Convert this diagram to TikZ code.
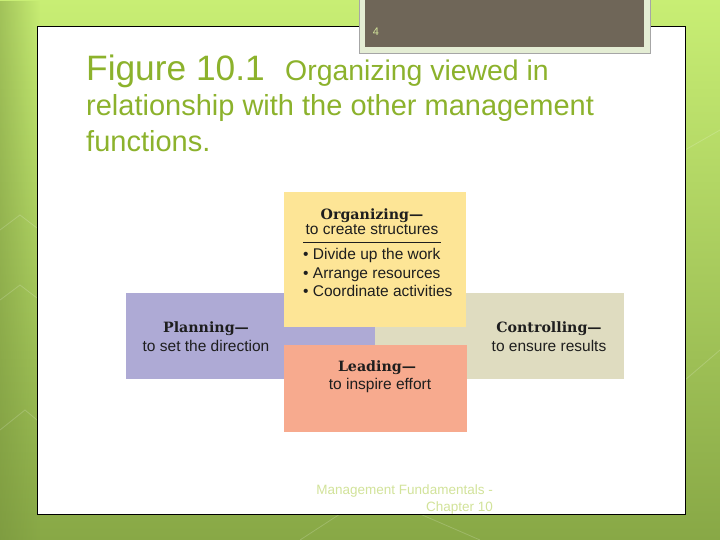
\documentclass[tikz,border=0pt]{standalone}
\usepackage{fontspec}
\usetikzlibrary{fadings}
\setmainfont{Liberation Sans}
\newfontfamily\headserif{DejaVu Serif}
\definecolor{bgtop}{HTML}{C8EE74}
\definecolor{bgbot}{HTML}{88A846}
\definecolor{tabfill}{HTML}{6F6658}
\definecolor{tabedge}{HTML}{E4EDD4}
\definecolor{titlegreen}{HTML}{8CB22C}
\definecolor{footgreen}{HTML}{D2E39A}
\definecolor{orgyellow}{HTML}{FDE596}
\definecolor{planpurple}{HTML}{AEAAD5}
\definecolor{ctrltan}{HTML}{DFDCC0}
\definecolor{leadsalmon}{HTML}{F7AA8E}
\definecolor{ink}{HTML}{1E1E1E}
\begin{document}
\begin{tikzpicture}[x=1pt,y=-1pt,
  box/.style={draw=none,inner sep=0pt,outer sep=0pt},
  head/.style={font=\headserif\bfseries\fontsize{14.2}{17}\selectfont,text=ink,inner sep=0pt,anchor=base},
  sub/.style={font=\fontsize{15.5}{18}\selectfont,text=ink,inner sep=0pt,anchor=base},
  title/.style={text=titlegreen,inner sep=0pt,anchor=base west},
  foot/.style={font=\fontsize{13.5}{16}\selectfont,text=footgreen,inner sep=0pt}]
\useasboundingbox (0,0) rectangle (720,540);
% background
\shade[top color=bgtop,bottom color=bgbot] (0,0) rectangle (720,540);
\fill[bgbot!85!black,opacity=0.45,path fading=east] (0,0) rectangle (40,540);
\begin{scope}[draw=white,opacity=0.18,line width=0.8pt]
  \draw (0,230) -- (20,215) -- (37,228);
  \draw (0,300) -- (20,285) -- (37,298);
  \draw (0,430) -- (25,410) -- (37,420);
  \draw (300,540) -- (340,514);
  \draw (420,514) -- (480,540);
  \draw (685,380) -- (720,350);
  \draw (685,150) -- (720,130);
\end{scope}
% white panel
\draw[fill=white,draw=black,line width=0.8pt] (37,26) rectangle (685,514);
% tab
\draw[fill=tabedge,draw=gray!70,line width=0.6pt] (359,-5) rectangle (650,53);
\fill[tabfill] (365,-5) rectangle (644,47);
\node[font=\fontsize{11}{13}\selectfont,text=footgreen,anchor=base,inner sep=0pt] (pagenum) at (376,36) {4};
% title
\node[title,font=\fontsize{35.3}{40}\selectfont] (fig) at (86,81) {Figure 10.1};
\node[title,font=\fontsize{28.4}{34}\selectfont] (t1) at (285,81) {Organizing viewed in};
\node[title,font=\fontsize{29}{34}\selectfont] (t2) at (86,116) {relationship with the other management};
\node[title,font=\fontsize{29}{34}\selectfont] (t3) at (86,152) {functions.};
% diagram boxes
\fill[planpurple] (126,293) rectangle (375,379);
\fill[ctrltan] (375,293) rectangle (624,379);
\node[box,fill=orgyellow,minimum width=182pt,minimum height=135pt] (org) at (375,259.5) {};
\node[box,fill=leadsalmon,minimum width=183pt,minimum height=87pt] (lead) at (375.5,388.5) {};
% texts
\node[head] (orgh) at (372,219) {Organizing—};
\node[sub] (orgs) at (372,235) {to create structures};
\draw[ink,line width=0.9pt] (303,242) -- (441,242);
\node[sub,anchor=base west] (b1) at (303,259) {• Divide up the work};
\node[sub,anchor=base west] (b2) at (303,278) {• Arrange resources};
\node[sub,anchor=base west] (b3) at (303,296) {• Coordinate activities};
\node[head] (planh) at (206,332) {Planning—};
\node[sub] (plans) at (206,351) {to set the direction};
\node[head] (ctrlh) at (549,332) {Controlling—};
\node[sub] (ctrls) at (549,351) {to ensure results};
\node[head] (leadh) at (377,371) {Leading—};
\node[sub] (leads) at (380,389) {to inspire effort};
% footer
\node[foot,anchor=base east] (f1) at (493,494) {Management Fundamentals -};
\node[foot,anchor=base east] (f2) at (493,511) {Chapter 10};
\end{tikzpicture}
\end{document}
